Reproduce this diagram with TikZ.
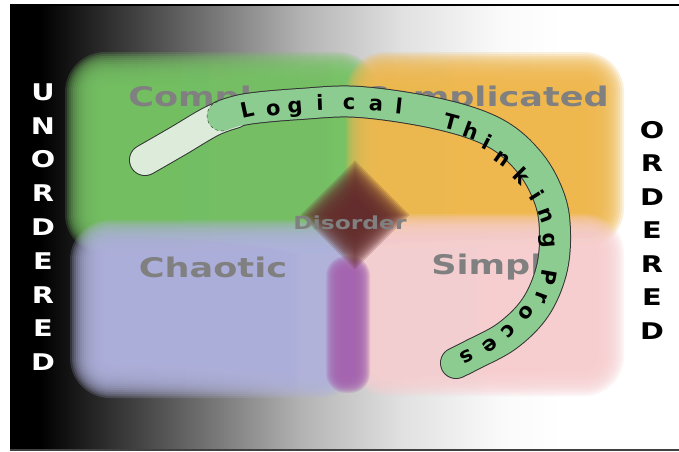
\documentclass[tikz,border=0pt]{standalone}
\usepackage{fontspec}
\setmainfont{DejaVu Sans}
\usetikzlibrary{calc}
\definecolor{cxgreen}{RGB}{118,194,100}
\definecolor{cporange}{RGB}{239,184,79}
\definecolor{chblue}{RGB}{176,178,222}
\definecolor{smpink}{RGB}{247,206,208}
\definecolor{disbrown}{RGB}{100,45,45}
\definecolor{dispurple}{RGB}{165,100,175}
\definecolor{labelgray}{RGB}{128,128,128}
\definecolor{bandgreen}{RGB}{141,204,145}
\definecolor{bandlight}{RGB}{221,236,218}

% soft edged box: [step] colour, corner, corner
\newcommand{\hazebox}[4][2]{%
  \foreach \k in {-5,...,13}
    \fill[#2, opacity=.2, rounded corners={(\k+7)*#1pt}]
      ($#3+(-#1*\k,-#1*\k)$) rectangle ($#4+(#1*\k,#1*\k)$);}

% centre lines of the arc band
\def\lightpath{plot[smooth, tension=.6] coordinates {(145,160) (178,141) (212,121) (234,113)}}
\def\greenpath{plot[smooth, tension=.6] coordinates {(222,116) (247,109) (300,104) (360,102)
  (439,114) (495,133) (530,163) (550,200) (555,235) (551,272) (535,308) (507,336) (472,355) (456,363)}}

\tikzset{
  quadlabel/.style={text=labelgray, inner sep=0pt, xscale=1.3,
    font=\bfseries\fontsize{27}{27}\selectfont},
  sideletter/.style={inner sep=0pt, xscale=1.25,
    font=\bfseries\fontsize{23}{23}\selectfont},
  bandletter/.style={inner sep=0pt, text height=15pt, text depth=0pt,
    font=\bfseries\fontsize{21}{21}\selectfont},
}

\begin{document}
\begin{tikzpicture}[x=1pt,y=-1pt]
\useasboundingbox (0,0) rectangle (679,451);
\fill[white] (0,0) rectangle (679,451);

% background: dark on the left, light on the right
\fill[black] (10,5) rectangle (41,450);
\foreach \xa/\xb/\ca/\cb in {40/301/black/black!30, 300/401/black!30/black!12,
    400/501/black!12/black!2, 500/561/black!2/white}
  \shade[left color=\ca, right color=\cb] (\xa,5) rectangle (\xb,450);
\draw[line width=2.5] (10,5) -- (679,5);
\draw[line width=2, black!75] (10,450) -- (679,450);

% the four domains
\hazebox{cxgreen}{(91,78)}{(352,228)}
\hazebox{cporange}{(372,78)}{(598,222)}
\hazebox{chblue}{(96,246)}{(334,372)}
\hazebox{smpink}{(372,240)}{(598,370)}
\hazebox[1]{dispurple}{(339,269)}{(357,380)}

% disorder in the middle
\foreach \k [evaluate=\k as \r using 26+2.2*\k] in {-5,...,13}
  \fill[disbrown, opacity=.2] ($(355,215)+(-\r,0)$) -- ($(355,215)+(0,-\r)$)
    -- ($(355,215)+(\r,0)$) -- ($(355,215)+(0,\r)$) -- cycle;

\node[quadlabel, anchor=west] (complex) at (128,99) {Complex};
\node[quadlabel, anchor=east] (complicated) at (609,99) {Complicated};
\node[quadlabel] (chaotic) at (213,267) {Chaotic};
\node[quadlabel, anchor=west] (simple) at (431,267) {Simple};
\node[quadlabel, font=\bfseries\fontsize{18}{18}\selectfont] (disorder) at (350,223) {Disorder};

% side captions
\foreach \ch [count=\i from 0] in {U,N,O,R,D,E,R,E,D}
  \node[sideletter, white] (un\i) at (43,92+33.8*\i) {\ch};
\foreach \ch [count=\i from 0] in {O,R,D,E,R,E,D}
  \node[sideletter, black] (ord\i) at (652,130+33.5*\i) {\ch};

% arc band
\draw[line width=32, line cap=round, black!80] \lightpath;
\draw[line width=32, line cap=round, black!80] \greenpath;
\draw[line width=30, line cap=round, bandlight] \lightpath;
\draw[line width=30, line cap=round, bandgreen] \greenpath;
\draw[dashed, black!80, thin] (218,101.6) .. controls (210,103.8) and (205.4,112) .. (207.6,120)
  .. controls (209.8,128) and (218,132.6) .. (226,130.4);
\foreach \x/\y/\a/\ch [count=\i] in {247/110/12/L, 273/108/7/o, 295/105/5/g, 320/103/2/i,
    349/102/0/c, 376/103/-3/a, 399/106/-6/l, 451/122/-15/T, 471/131/-20/h, 487/142/-27/i,
    503/158/-35/n, 522/176/-45/k, 537/196/-58/i, 547/215/-70/n, 551/240/-85/g,
    549/277/-100/P, 543/298/-110/r, 527/314/-125/o, 509/332/-135/c, 491/347/-145/e, 467/358/-152/s}
  \node[bandletter, rotate=\a] (lt\i) at (\x,\y) {\ch};
\end{tikzpicture}
\end{document}
